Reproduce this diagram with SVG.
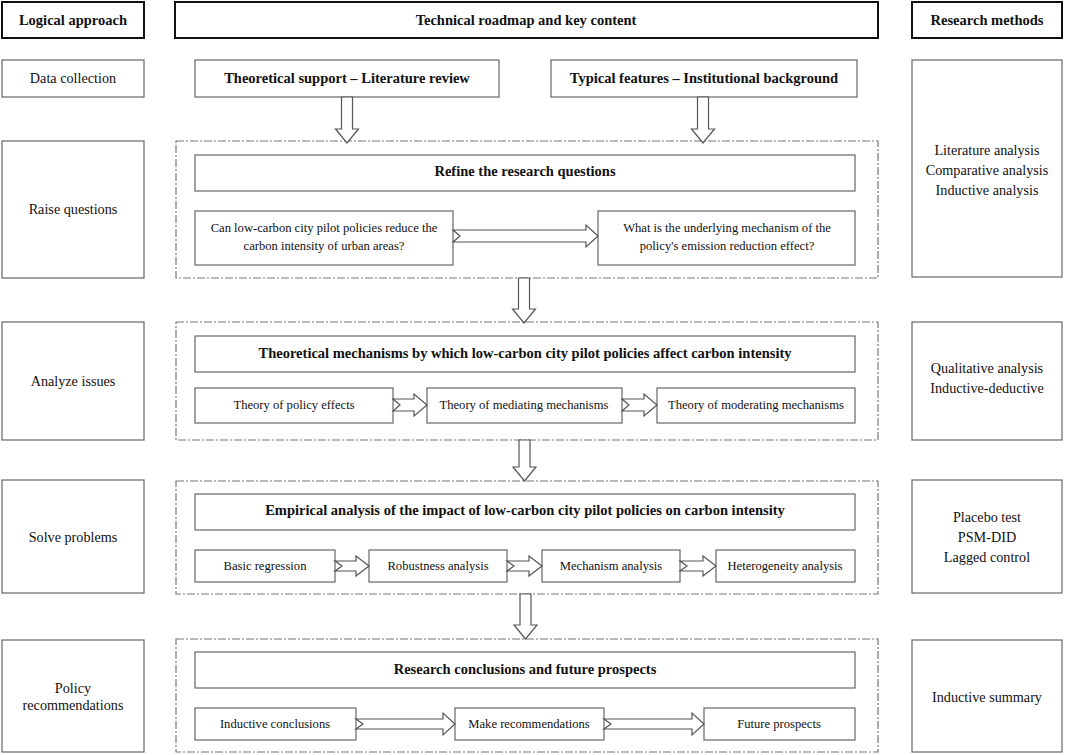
<svg xmlns="http://www.w3.org/2000/svg" width="1065" height="755" viewBox="0 0 1065 755">
<style>
text{font-family:"Liberation Serif","Times New Roman",serif;fill:#111;text-anchor:middle}
.b{font-weight:bold;font-size:14.5px}
.r{font-size:14.2px}
.s{font-size:12.6px}
.hdr{fill:#fff;stroke:#111;stroke-width:2}
.box{fill:#fff;stroke:#666;stroke-width:1.2}
.frame{fill:none;stroke:#777;stroke-width:1.2;stroke-dasharray:8 2 2 2}
.arr{fill:#fff;stroke:#555;stroke-width:1.2;stroke-linejoin:miter}
</style>
<rect width="1065" height="755" fill="#fff"/>
<g id="headers">
<g id="h-logical"><rect class="hdr" x="2" y="2" width="142" height="36"/><text class="b" x="73" y="25">Logical approach</text></g>
<g id="h-roadmap"><rect class="hdr" x="175" y="2" width="703" height="36"/><text class="b" x="526" y="25">Technical roadmap and key content</text></g>
<g id="h-methods"><rect class="hdr" x="912" y="2" width="150" height="36"/><text class="b" x="987" y="25">Research methods</text></g>
</g>
<g id="left">
<g id="l-data"><rect class="box" x="2" y="60" width="142" height="37"/><text class="r" x="73" y="83">Data collection</text></g>
<g id="l-raise"><rect class="box" x="2" y="141" width="142" height="137"/><text class="r" x="73" y="214">Raise questions</text></g>
<g id="l-analyze"><rect class="box" x="2" y="322" width="142" height="118"/><text class="r" x="73" y="386">Analyze issues</text></g>
<g id="l-solve"><rect class="box" x="2" y="480" width="142" height="113"/><text class="r" x="73" y="542">Solve problems</text></g>
<g id="l-policy"><rect class="box" x="2" y="640" width="142" height="112"/><text class="r" x="73" y="693">Policy</text><text class="r" x="73" y="710">recommendations</text></g>
</g>
<g id="right">
<g id="r-1"><rect class="box" x="912" y="60" width="150" height="217"/><text class="r" x="987" y="155">Literature analysis</text><text class="r" x="987" y="175">Comparative analysis</text><text class="r" x="987" y="195">Inductive analysis</text></g>
<g id="r-2"><rect class="box" x="912" y="322" width="150" height="118"/><text class="r" x="987" y="373">Qualitative analysis</text><text class="r" x="987" y="393">Inductive-deductive</text></g>
<g id="r-3"><rect class="box" x="912" y="480" width="150" height="113"/><text class="r" x="987" y="522">Placebo test</text><text class="r" x="987" y="542">PSM-DID</text><text class="r" x="987" y="562">Lagged control</text></g>
<g id="r-4"><rect class="box" x="912" y="640" width="150" height="112"/><text class="r" x="987" y="702">Inductive summary</text></g>
</g>
<g id="frames">
<rect class="frame" x="176" y="141" width="702" height="137"/>
<rect class="frame" x="176" y="322" width="702" height="118"/>
<rect class="frame" x="176" y="481" width="702" height="113"/>
<rect class="frame" x="176" y="639" width="702" height="113"/>
</g>
<g id="middle">
<g id="m-theory"><rect class="box" x="195" y="60" width="304" height="37"/><text class="b" x="347" y="83">Theoretical support – Literature review</text></g>
<g id="m-features"><rect class="box" x="551" y="60" width="306" height="37"/><text class="b" x="704" y="83">Typical features – Institutional background</text></g>
<g id="m-refine"><rect class="box" x="195" y="155" width="660" height="36"/><text class="b" x="525" y="176">Refine the research questions</text></g>
<g id="m-q1"><rect class="box" x="195" y="211" width="258" height="54"/><text class="s" x="324" y="232">Can low-carbon city pilot policies reduce the</text><text class="s" x="324" y="250">carbon intensity of urban areas?</text></g>
<g id="m-q2"><rect class="box" x="598" y="211" width="257" height="54"/><text class="s" x="727" y="232">What is the underlying mechanism of the</text><text class="s" x="727" y="250">policy's emission reduction effect?</text></g>
<g id="m-mech"><rect class="box" x="195" y="336" width="660" height="36"/><text class="b" x="525" y="358">Theoretical mechanisms by which low-carbon city pilot policies affect carbon intensity</text></g>
<g id="m-t1"><rect class="box" x="195" y="388" width="198" height="35"/><text class="s" x="294" y="409">Theory of policy effects</text></g>
<g id="m-t2"><rect class="box" x="427" y="388" width="195" height="35"/><text class="s" x="524" y="409">Theory of mediating mechanisms</text></g>
<g id="m-t3"><rect class="box" x="657" y="388" width="198" height="35"/><text class="s" x="756" y="409">Theory of moderating mechanisms</text></g>
<g id="m-emp"><rect class="box" x="195" y="494" width="660" height="36"/><text class="b" x="525" y="515">Empirical analysis of the impact of low-carbon city pilot policies on carbon intensity</text></g>
<g id="m-e1"><rect class="box" x="195" y="550" width="140" height="32"/><text class="s" x="265" y="570">Basic regression</text></g>
<g id="m-e2"><rect class="box" x="369" y="550" width="138" height="32"/><text class="s" x="438" y="570">Robustness analysis</text></g>
<g id="m-e3"><rect class="box" x="542" y="550" width="138" height="32"/><text class="s" x="611" y="570">Mechanism analysis</text></g>
<g id="m-e4"><rect class="box" x="716" y="550" width="139" height="32"/><text class="s" x="785" y="570">Heterogeneity analysis</text></g>
<g id="m-conc"><rect class="box" x="195" y="652" width="660" height="36"/><text class="b" x="525" y="674">Research conclusions and future prospects</text></g>
<g id="m-c1"><rect class="box" x="195" y="708" width="161" height="32"/><text class="s" x="275" y="728">Inductive conclusions</text></g>
<g id="m-c2"><rect class="box" x="455" y="708" width="149" height="32"/><text class="s" x="529" y="728">Make recommendations</text></g>
<g id="m-c3"><rect class="box" x="704" y="708" width="151" height="32"/><text class="s" x="779" y="728">Future prospects</text></g>
</g>
<g id="connectors">
<polygon class="arr" points="341.5,97 352.5,97 352.5,129 358.5,129 347,143 335.5,129 341.5,129"/>
<polygon class="arr" points="697.5,97 708.5,97 708.5,129 714.5,129 703,143 691.5,129 697.5,129"/>
<polygon class="arr" points="518.5,278 529.5,278 529.5,309 535.5,309 524,323 512.5,309 518.5,309"/>
<polygon class="arr" points="519,440 530,440 530,467 536,467 524.5,481 513,467 519,467"/>
<polygon class="arr" points="520,594 531,594 531,625 537,625 525.5,639 514,625 520,625"/>
<polygon class="arr" points="453,230 586,230 586,225 598,236 586,247 586,242 453,242 460,236"/>
<polygon class="arr" points="393,399 414,399 414,394 427,405 414,416 414,411 393,411 400,405"/>
<polygon class="arr" points="622,399 644,399 644,394 657,405 644,416 644,411 622,411 629,405"/>
<polygon class="arr" points="335,561 356,561 356,556 369,566 356,576 356,571 335,571 342,566"/>
<polygon class="arr" points="507,561 529,561 529,556 542,566 529,576 529,571 507,571 514,566"/>
<polygon class="arr" points="680,561 703,561 703,556 716,566 703,576 703,571 680,571 687,566"/>
<polygon class="arr" points="356,719 443,719 443,713 455,724 443,735 443,729 356,729 363,724"/>
<polygon class="arr" points="604,719 692,719 692,713 704,724 692,735 692,729 604,729 611,724"/>
</g>
</svg>
